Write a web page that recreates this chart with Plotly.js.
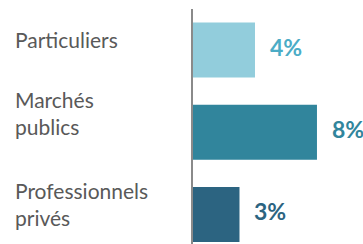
<!DOCTYPE html>
<html>
<head>
<meta charset="utf-8">
<script src="https://cdn.plot.ly/plotly-3.0.1.min.js"></script>
<style>html,body{margin:0;padding:0;background:#fff;}#chart{width:363px;height:244px;}</style>
</head>
<body>
<div id="chart"></div>
<script>
const categories = ["Particuliers", "Marchés publics", "Professionnels privés"];
const categoryLabels = ["Particuliers", "Marchés<br>publics", "Professionnels<br>privés"];
const values = [4, 8, 3];
const valueLabels = ["4%", "8%", "3%"];

const barColors = ["#92CDDC", "#31859C", "#2C6481"];
const labelColors = ["#4BACC6", "#31859C", "#2C6481"];
const catShift = [10.5, 19, 10.5];

const annotations = [];
categories.forEach((c, i) => {
  annotations.push({
    x: 0, xref: 'paper', xanchor: 'left', xshift: -180,
    y: c, yref: 'y', yanchor: 'middle', yshift: catShift[i],
    text: categoryLabels[i], align: 'left', showarrow: false,
    font: {family: 'Lato, sans-serif', size: 21, color: '#595959'}
  });
  annotations.push({
    x: values[i], xref: 'x', xanchor: 'left', xshift: 13,
    y: c, yref: 'y', yanchor: 'middle', yshift: 3,
    text: '<b>' + valueLabels[i] + '</b>', showarrow: false,
    font: {family: 'Lato, sans-serif', size: 23, color: labelColors[i]}
  });
});

Plotly.newPlot('chart', [{
  type: 'bar', orientation: 'h',
  y: categories, x: values,
  marker: {color: barColors},
  width: 0.67, hoverinfo: 'none'
}], {
  width: 363, height: 244,
  margin: {l: 193, r: 0, t: 9, b: 0, pad: 0},
  paper_bgcolor: '#fff', plot_bgcolor: '#fff',
  showlegend: false,
  xaxis: {range: [0, 10.97], showgrid: false, zeroline: false, showticklabels: false, showline: false, fixedrange: true},
  yaxis: {type: 'category', range: [2.36, -0.5], showgrid: false, zeroline: false, showticklabels: false,
          showline: true, linecolor: '#8a8a8a', linewidth: 2, ticks: '', fixedrange: true},
  annotations: annotations
}, {staticPlot: true, displayModeBar: false});
</script>
</body>
</html>
